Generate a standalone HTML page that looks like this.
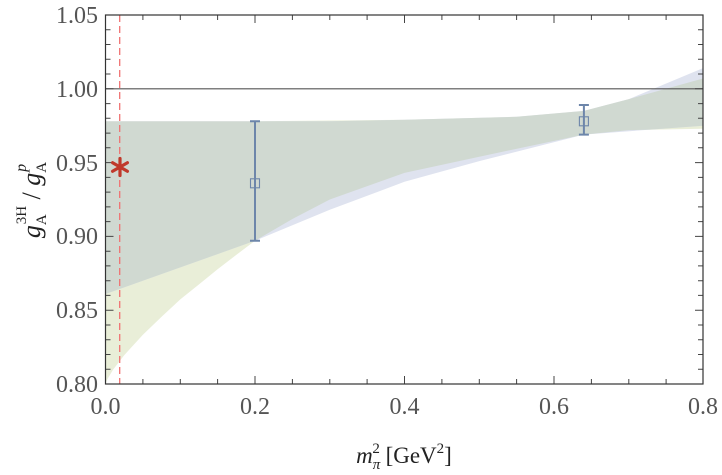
<!DOCTYPE html>
<html><head><style>body{margin:0;background:#fff}svg{display:block}</style></head><body>
<svg width="722" height="475" xmlns="http://www.w3.org/2000/svg" font-family="Liberation Serif, serif">
<defs>
<clipPath id="cb"><path d="M105.5,121.3L329.8,121.3L404.5,119.8L516.6,116.8L583.9,110.9L628.8,99.1L703,68.1L703,125.7L583.9,134.6L479.3,161.1L404.5,181.8L329.8,209.8L255,240.8L180.3,267.4L105.5,294Z"/></clipPath>
</defs>
<path d="M105.5,121.3L255,121.3L404.5,119.8L516.6,116.8L583.9,110.9L628.8,99.1L703,78.5L703,128.7L628.8,130.1L583.9,134.6L479.3,156.7L404.5,172.9L329.8,199.5L292.4,219L255,240.8L236.3,254.9L217.6,269.3L199,284.4L180.3,299.4L161.6,316.7L142.9,334.7L124.2,355.2L113,369.7L107.4,379.1L105.5,384Z" fill="#e9eed8"/>
<path d="M105.5,121.3L329.8,121.3L404.5,119.8L516.6,116.8L583.9,110.9L628.8,99.1L703,68.1L703,125.7L583.9,134.6L479.3,161.1L404.5,181.8L329.8,209.8L255,240.8L180.3,267.4L105.5,294Z" fill="#dfe3ef"/>
<path clip-path="url(#cb)" d="M105.5,121.3L255,121.3L404.5,119.8L516.6,116.8L583.9,110.9L628.8,99.1L703,78.5L703,128.7L628.8,130.1L583.9,134.6L479.3,156.7L404.5,172.9L329.8,199.5L292.4,219L255,240.8L236.3,254.9L217.6,269.3L199,284.4L180.3,299.4L161.6,316.7L142.9,334.7L124.2,355.2L113,369.7L107.4,379.1L105.5,384Z" fill="#d0d9d1"/>
<line x1="105.5" x2="703" y1="88.8" y2="88.8" stroke="#555" stroke-width="1.2"/>
<line x1="119.7" x2="119.7" y1="15" y2="384" stroke="#f07272" stroke-width="1.3" stroke-dasharray="7,4"/>
<path stroke="#444" stroke-width="1" d="
M105.5,384v-8M142.9,384v-5M180.3,384v-5M217.6,384v-5M255,384v-8M292.4,384v-5M329.8,384v-5M367.1,384v-5M404.5,384v-8M441.9,384v-5M479.3,384v-5M516.6,384v-5M554,384v-8M591.4,384v-5M628.8,384v-5M666.1,384v-5M703,384v-8
M105.5,15v8M142.9,15v5M180.3,15v5M217.6,15v5M255,15v8M292.4,15v5M329.8,15v5M367.1,15v5M404.5,15v8M441.9,15v5M479.3,15v5M516.6,15v5M554,15v8M591.4,15v5M628.8,15v5M666.1,15v5M703,15v8
M105.5,384h8M105.5,369.2h5M105.5,354.5h5M105.5,339.7h5M105.5,325h5M105.5,310.2h8M105.5,295.4h5M105.5,280.7h5M105.5,265.9h5M105.5,251.2h5M105.5,236.4h8M105.5,221.6h5M105.5,206.9h5M105.5,192.1h5M105.5,177.4h5M105.5,162.6h8M105.5,147.8h5M105.5,133.1h5M105.5,118.3h5M105.5,103.6h5M105.5,88.8h8M105.5,74h5M105.5,59.3h5M105.5,44.5h5M105.5,29.8h5M105.5,15h8
M703,384h-8M703,369.2h-5M703,354.5h-5M703,339.7h-5M703,325h-5M703,310.2h-8M703,295.4h-5M703,280.7h-5M703,265.9h-5M703,251.2h-5M703,236.4h-8M703,221.6h-5M703,206.9h-5M703,192.1h-5M703,177.4h-5M703,162.6h-8M703,147.8h-5M703,133.1h-5M703,118.3h-5M703,103.6h-5M703,88.8h-8M703,74h-5M703,59.3h-5M703,44.5h-5M703,29.8h-5M703,15h-8"/>
<rect x="105.5" y="15" width="597.5" height="369" fill="none" stroke="#333" stroke-width="1.2"/>
<path d="M255,121.3V240.8M250,121.3h10M250,240.8h10M583.9,105V134.6M578.9,105h10M578.9,134.6h10" stroke="#6d86aa" stroke-width="2"/>
<rect x="250.5" y="178.8" width="9" height="9" fill="none" stroke="#6d86aa" stroke-width="1.1"/>
<rect x="579.4" y="116.8" width="9" height="9" fill="none" stroke="#6d86aa" stroke-width="1.1"/>
<path d="M120,158.5V175.5M112.6,162.7L127.4,171.3M112.6,171.3L127.4,162.7" stroke="#c0392b" stroke-width="3.2" stroke-linecap="round"/>
<g font-size="24" fill="#555" text-anchor="end">
<text x="98" y="392">0.80</text><text x="98" y="318">0.85</text><text x="98" y="244">0.90</text><text x="98" y="171">0.95</text><text x="98" y="97">1.00</text><text x="98" y="23">1.05</text>
</g>
<g font-size="24" fill="#555" text-anchor="middle">
<text x="105.5" y="414">0.0</text><text x="255" y="414">0.2</text><text x="404.5" y="414">0.4</text><text x="554" y="414">0.6</text><text x="703" y="414">0.8</text>
</g>
<text x="404" y="463" font-size="23" fill="#222" text-anchor="middle"><tspan font-style="italic">m</tspan><tspan font-size="15" dy="6" font-style="italic">π</tspan><tspan font-size="15" dy="-16" dx="-8">2</tspan><tspan dy="10"> [GeV</tspan><tspan font-size="15" dy="-10">2</tspan><tspan dy="10">]</tspan></text>
<g transform="translate(40,200) rotate(-90)"><text x="0" y="0" font-size="26" fill="#222" text-anchor="middle"><tspan font-style="italic">g</tspan><tspan font-size="15" dy="6">A</tspan><tspan font-size="15" dy="-20" dx="-10">3</tspan><tspan font-size="15">H</tspan><tspan dy="14"> / </tspan><tspan font-style="italic">g</tspan><tspan font-size="15" dy="6">A</tspan><tspan font-size="16" font-style="italic" dy="-20" dx="-10">p</tspan></text></g>
</svg>
</body></html>
